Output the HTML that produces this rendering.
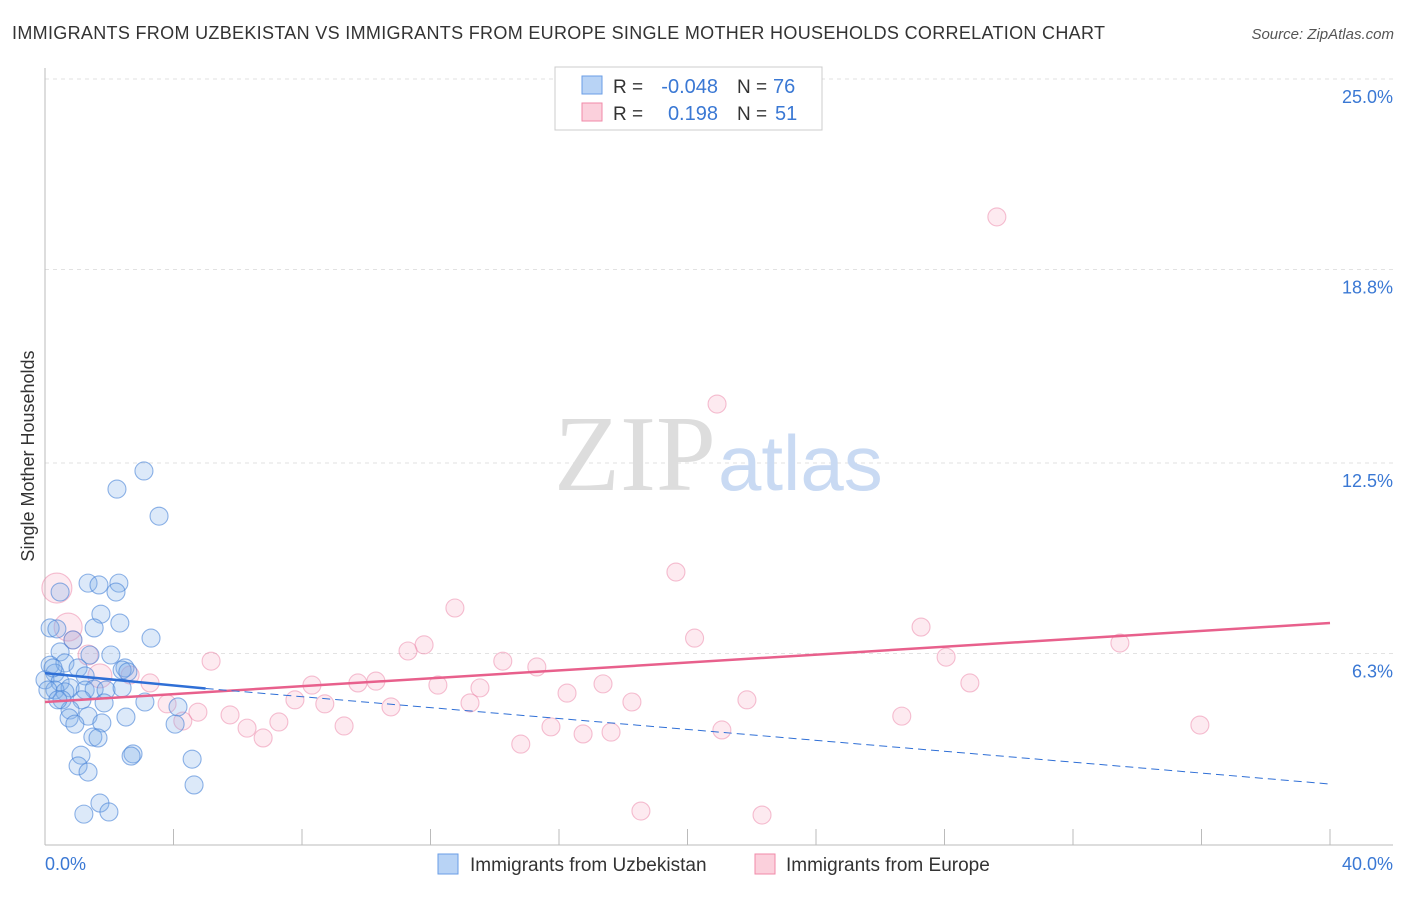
<!DOCTYPE html>
<html><head><meta charset="utf-8"><style>
body{margin:0;background:#fff;font-family:"Liberation Sans",sans-serif}
</style></head><body>
<svg width="1406" height="892" xmlns="http://www.w3.org/2000/svg" font-family="Liberation Sans, sans-serif">
<text x="12" y="39" font-size="18" fill="#333" textLength="1093">IMMIGRANTS FROM UZBEKISTAN VS IMMIGRANTS FROM EUROPE SINGLE MOTHER HOUSEHOLDS CORRELATION CHART</text>
<text x="1394" y="39" font-size="15" fill="#555" text-anchor="end" font-style="italic">Source: ZipAtlas.com</text>
<g id="grid"></g>
<text x="716" y="490" font-size="108" fill="#ddd" text-anchor="end" font-family="Liberation Serif, serif">ZIP</text>
<text x="718" y="490" font-size="78" fill="#c9daf3">atlas</text>
<g id="marks"></g>
<text transform="translate(34,456) rotate(-90)" font-size="18" fill="#333" text-anchor="middle">Single Mother Households</text>
<text x="45" y="870" font-size="18" fill="#3a78d4">0.0%</text>
<text x="1393" y="870" font-size="18" fill="#3a78d4" text-anchor="end">40.0%</text>
<g>
<rect x="555" y="67" width="267" height="63" fill="#fff" stroke="#ccc"/>
<rect x="582" y="76" width="20" height="18" fill="#b8d3f5" stroke="#6a9ee6"/>
<rect x="582" y="103" width="20" height="18" fill="#fbd0dc" stroke="#f08aa8"/>
<text x="613" y="93" font-size="19" fill="#333">R =</text>
<text x="718" y="93" font-size="20" fill="#3a78d4" text-anchor="end">-0.048</text>
<text x="737" y="93" font-size="19" fill="#333">N =</text>
<text x="773" y="93" font-size="20" fill="#3a78d4">76</text>
<text x="613" y="120" font-size="19" fill="#333">R =</text>
<text x="718" y="120" font-size="20" fill="#3a78d4" text-anchor="end">0.198</text>
<text x="737" y="120" font-size="19" fill="#333">N =</text>
<text x="775" y="120" font-size="20" fill="#3a78d4">51</text>
</g>
<g>
<rect x="438" y="854" width="20" height="20" fill="#b8d3f5" stroke="#6a9ee6"/>
<text x="470" y="871" font-size="19" fill="#333">Immigrants from Uzbekistan</text>
<rect x="755" y="854" width="20" height="20" fill="#fbd0dc" stroke="#f08aa8"/>
<text x="786" y="871" font-size="19" fill="#333">Immigrants from Europe</text>
</g>
</svg>
<script>
const yTicks=[6.3,12.5,18.8,25.0];
const yTickLabels=["6.3%","12.5%","18.8%","25.0%"];
const blueX=[3.08,2.24,3.55,1.34,1.68,2.30,0.47,2.21,1.74,2.33,0.16,0.37,1.53,3.30,0.87,0.47,1.40,2.05,0.16,0.62,1.03,2.49,2.40,2.58,0.31,0,1.25,0.47,0.78,1.25,1.53,1.90,2.40,0.31,0.62,1.15,0.53,1.84,3.11,4.14,0.78,0.75,1.34,2.52,0.93,1.77,4.05,1.49,1.65,1.12,2.74,2.68,4.58,1.03,1.34,4.64,1.71,1.21,1.99,0.25,0.09,0.40];
const blueY=[12.24,11.65,10.77,8.59,8.53,8.59,8.30,8.30,7.58,7.29,7.13,7.10,7.13,6.80,6.74,6.35,6.25,6.25,5.92,5.99,5.83,5.83,5.76,5.70,5.66,5.44,5.57,5.37,5.18,5.11,5.14,5.11,5.18,5.11,5.05,4.79,4.79,4.69,4.72,4.56,4.46,4.20,4.26,4.23,4.00,4.04,4.00,3.58,3.55,2.99,3.03,2.96,2.86,2.64,2.44,2.02,1.43,1.07,1.14,5.83,5.11,4.79];
const pinkX=[0.37,0.72,1.71,1.34,0.87,29.63,20.92,19.64,12.76,20.22,27.27,33.46,11.8,11.3,14.25,15.31,28.05,5.17,9.74,10.30,8.31,12.23,13.54,17.37,28.79,16.25,3.27,7.78,8.71,10.77,13.23,18.27,21.85,3.80,4.76,4.29,5.76,26.67,7.28,6.29,9.31,15.75,21.07,35.95,6.79,16.75,17.62,14.81,18.55,22.32,2.65];
const pinkY=[8.43,7.16,5.57,6.25,6.74,20.51,14.42,8.95,7.78,6.80,7.16,6.64,6.58,6.38,6.05,5.86,6.18,6.05,5.34,5.40,5.27,5.27,5.18,5.31,5.34,5.01,5.34,4.79,4.66,4.56,4.69,4.72,4.79,4.66,4.39,4.10,4.30,4.26,4.07,3.87,3.94,3.91,3.81,3.97,3.55,3.68,3.74,3.35,1.17,1.04,5.60];
const pinkR=[15,14,12,10,9];
const blueTrend=[[0,5.66],[5,5.16],[40,2.05]];
const pinkTrend=[[0,4.72],[40,7.29]];
const X=v=>45+v/40*1285, Y=v=>847-v*30.72;
const NS="http://www.w3.org/2000/svg";
const grid=document.getElementById('grid'), marks=document.getElementById('marks');
function mk(tag,attrs,parent){const e=document.createElementNS(NS,tag);for(const k in attrs)e.setAttribute(k,attrs[k]);parent.appendChild(e);return e;}
yTicks.forEach((t,i)=>{
  const l=mk('line',{x1:45,x2:1393,y1:Y(t),y2:Y(t),stroke:'#e2e2e2','stroke-dasharray':'4 4'},grid);
  
  
  const tx=mk('text',{x:1393,y:Y(t)+24,'font-size':18,fill:'#3a78d4','text-anchor':'end'},grid);
  tx.textContent=yTickLabels[i];
  
  
});
const ax=mk('line',{x1:45,x2:45,y1:68,y2:845,stroke:'#bbb'},grid);


const bx=mk('line',{x1:45,x2:1393,y1:845,y2:845,stroke:'#bbb'},grid);


for(let i=1;i<=10;i++){
  const t=mk('line',{x1:X(i*4),x2:X(i*4),y1:829,y2:845,stroke:'#bbb'},grid);
  
  
}
pinkX.forEach((v,i)=>{
  const c=mk('circle',{cx:X(v),cy:Y(pinkY[i]),r:pinkR[i]||9,fill:'rgba(244,160,188,0.22)',stroke:'rgba(236,130,165,0.5)','stroke-width':1.1},marks);
  
  
});
blueX.forEach((v,i)=>{
  const c=mk('circle',{cx:X(v),cy:Y(blueY[i]),r:9,fill:'rgba(130,175,235,0.28)',stroke:'rgba(70,130,215,0.6)','stroke-width':1.1},marks);
  
  
});
const pt=mk('line',{x1:X(pinkTrend[0][0]),y1:Y(pinkTrend[0][1]),x2:X(pinkTrend[1][0]),y2:Y(pinkTrend[1][1]),stroke:'#e8608c','stroke-width':2.5},marks);


const bs=mk('line',{x1:X(blueTrend[0][0]),y1:Y(blueTrend[0][1]),x2:X(blueTrend[1][0]),y2:Y(blueTrend[1][1]),stroke:'#2f6fd6','stroke-width':2.5},marks);


const bd=mk('line',{x1:X(blueTrend[1][0]),y1:Y(blueTrend[1][1]),x2:X(blueTrend[2][0]),y2:Y(blueTrend[2][1]),stroke:'#2f6fd6','stroke-width':1,'stroke-dasharray':'8 5'},marks);


</script>
</body></html>
